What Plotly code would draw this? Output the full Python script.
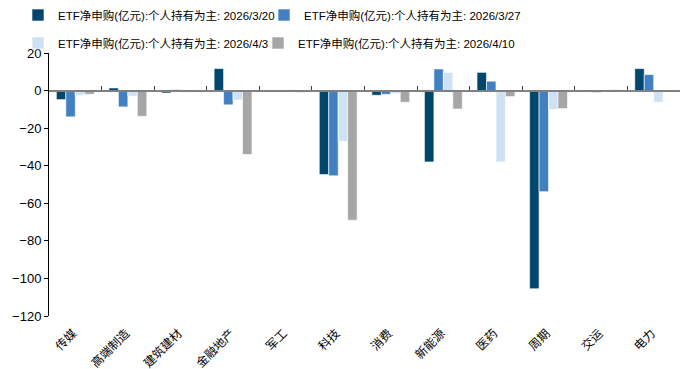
import plotly.graph_objects as go

categories = ["传媒", "高端制造", "建筑建材", "金融地产", "军工", "科技",
              "消费", "新能源", "医药", "周期", "交运", "电力"]

series_names = [
    "ETF净申购(亿元):个人持有为主: 2026/3/20",
    "ETF净申购(亿元):个人持有为主: 2026/3/27",
    "ETF净申购(亿元):个人持有为主: 2026/4/3",
    "ETF净申购(亿元):个人持有为主: 2026/4/10",
]

v_0320 = [-4.8, 1.4, -1.3, 11.7, -0.5, -44.7, -2.5, -38.0, 9.7, -105.5, -0.5, 11.7]
v_0327 = [-14.0, -8.7, 0.5, -7.6, -0.5, -45.4, -2.0, 11.5, 5.0, -53.8, -1.0, 8.5]
v_0403 = [-2.5, -3.0, -1.0, -5.0, 0.5, -27.0, -1.5, 9.7, -38.0, -10.0, -0.5, -6.2]
v_0410 = [-2.0, -13.7, -0.3, -34.0, -1.0, -69.0, -6.2, -9.8, -3.2, -9.6, 0.5, -0.5]

values = [v_0320, v_0327, v_0403, v_0410]
colors = ["#00476e", "#4281c1", "#cfe2f3", "#a6a6a6"]
legends = ["legend", "legend2", "legend3", "legend4"]
# legend text start (px from left) and row centre (px from top)
legend_pos = [(58, 15), (304, 15), (58, 43), (298, 43)]

FONT_CN = "Liberation Sans, Noto Sans CJK SC, sans-serif"
W, H = 689, 369

fig = go.Figure()
for name, vals, col, lg in zip(series_names, values, colors, legends):
    fig.add_bar(
        x=categories,
        y=vals,
        name=name,
        marker=dict(color=col, line=dict(color="white", width=0.6)),
        legend=lg,
    )

# invisible trace so the zero-line axis knows the categories
fig.add_scatter(
    x=categories,
    y=[0] * len(categories),
    xaxis="x2",
    mode="markers",
    marker=dict(opacity=0),
    hoverinfo="skip",
    showlegend=False,
)

fig.layout.update(
    width=W,
    height=H,
    template="plotly_white",
    plot_bgcolor="white",
    paper_bgcolor="white",
    barmode="group",
    bargap=0.28,
    bargroupgap=0,
    margin=dict(l=49, r=9, t=53, b=53, autoexpand=False),
    font=dict(family=FONT_CN, size=13, color="black"),
)

for lg, (tx, ty) in zip(legends, legend_pos):
    fig.layout[lg] = dict(
        orientation="h",
        xref="container",
        yref="container",
        x=(tx - 40) / W,
        y=1 - ty / H,
        xanchor="left",
        yanchor="middle",
        itemwidth=30,
        font=dict(size=11.5, family=FONT_CN),
        bgcolor="rgba(0,0,0,0)",
    )

fig.layout.yaxis.update(
    range=[-120, 20],
    dtick=20,
    showgrid=False,
    zeroline=False,
    showline=True,
    linecolor="black",
    linewidth=1,
    ticks="outside",
    ticklen=4,
    tickcolor="black",
    tickfont=dict(size=13, family="Liberation Sans"),
)
fig.layout.xaxis.update(
    type="category",
    showgrid=False,
    showline=False,
    ticks="",
    tickangle=-45,
    tickfont=dict(size=12, family="Noto Sans CJK SC"),
    ticklabelshift=-2,
    ticklabelstandoff=7,
    range=[-0.5, 11.5],
)
fig.layout.xaxis2 = dict(
    type="category",
    overlaying="x",
    anchor="free",
    position=120 / 140,
    range=[-0.5, 11.5],
    showgrid=False,
    showline=True,
    linecolor="#808080",
    linewidth=1.5,
    ticks="inside",
    tickson="boundaries",
    ticklen=4,
    tickcolor="#404040",
    showticklabels=False,
)

fig.write_html(
    "out.html",
    config={"displayModeBar": False},
    post_script="document.body.style.margin='0';document.body.style.overflow='hidden';",
)
